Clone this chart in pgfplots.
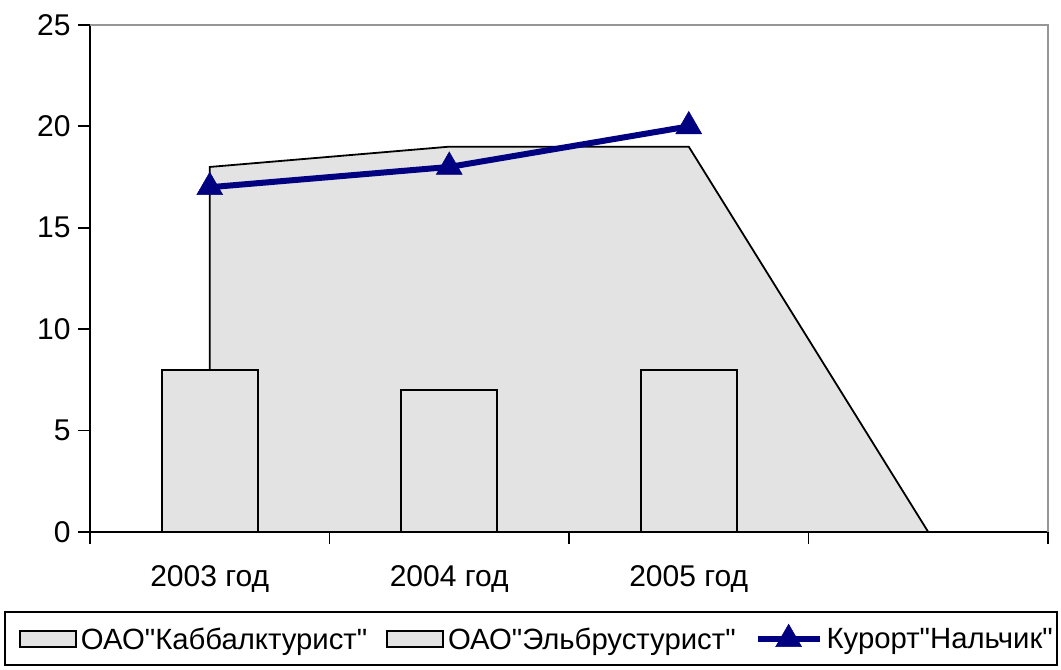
\documentclass[border=0pt]{standalone}
\usepackage{pgfplots}
\pgfplotsset{compat=1.18}
\usepackage{fontspec}
\setmainfont{Liberation Sans}[Ligatures=TeXOff]
\definecolor{fillgray}{RGB}{227,227,227}
\definecolor{navyline}{RGB}{0,0,128}
\definecolor{framegray}{RGB}{150,150,150}
\pgfplotsset{
  boxlegend/.style={legend image code/.code={\draw[##1] (0bp,-8bp) rectangle (56bp,8bp);}},
  linelegend/.style={legend image code/.code={\draw[mark repeat=2,mark phase=2,##1] plot coordinates {(0bp,0bp)(31bp,0bp)(62bp,0bp)};}},
}
\newcommand{\tickfont}{\fontsize{30bp}{36bp}\selectfont}
\newcommand{\legfont}{\fontsize{29.3bp}{35bp}\selectfont}

\begin{document}
\begin{tikzpicture}
\useasboundingbox (0,0) rectangle (1061bp,670bp);
\begin{axis}[
    at={(90bp,138bp)}, anchor=south west,
    scale only axis,
    width=958bp, height=507bp,
    xmin=-0.5, xmax=3.5,
    ymin=0, ymax=25,
    axis x line=bottom, axis y line=left,
    axis line style={line width=1.8bp, black, -},
    xtick={-0.5,0.5,1.5,2.5,3.5},
    xticklabels={2003 год,2004 год,2005 год,,},
    xticklabel style={xshift=119.75bp, yshift=-18bp},
    ytick={0,5,10,15,20,25},
    yticklabel style={xshift=-4bp},
    tick align=outside,
    major tick length=12bp,
    tick style={line width=1.8bp, black},
    tick label style={font=\tickfont},
    /pgf/number format/assume math mode=true,
    clip=false,
    legend columns=3,
    legend cell align=left,
    legend style={at={(0.4666,-0.21)}, anchor=center, draw=none, fill=none,
        font=\legfont, nodes={inner sep=2bp},
        /tikz/every odd column/.append style={column sep=2bp},
        /tikz/every even column/.append style={column sep=17bp}},
]
% ОАО"Эльбрустурист" (area)
\addplot[fill=fillgray, draw=black, line width=1.8bp, forget plot]
    coordinates {(0,18)(1,19)(2,19)(3,0)} \closedcycle;
% ОАО"Каббалктурист" (bars)
\addplot[ybar, bar width=0.4, fill=fillgray, draw=black, line width=1.8bp, forget plot]
    coordinates {(0,8)(1,7)(2,8)};
% Курорт"Нальчик"
\addplot[color=navyline, line width=6bp, mark=triangle*, mark size=15bp,
    mark options={solid, fill=navyline, draw=navyline, line width=0.5bp}, forget plot]
    coordinates {(0,17)(1,18)(2,20)};

\draw[framegray, line width=1.5bp] (rel axis cs:0,1) -- (rel axis cs:1,1) -- (rel axis cs:1,0);

\addlegendimage{boxlegend, fill=fillgray, draw=black, line width=1.8bp}
\addlegendentry{ОАО"Каббалктурист"}
\addlegendimage{boxlegend, fill=fillgray, draw=black, line width=1.8bp}
\addlegendentry{ОАО"Эльбрустурист"}
\addlegendimage{linelegend, color=navyline, line width=6bp, mark=triangle*, mark size=15bp,
    mark options={solid, fill=navyline, draw=navyline, line width=0.5bp}}
\addlegendentry{Курорт"Нальчик"}
\end{axis}
\draw[black, line width=1.8bp] (5bp,5bp) rectangle (1057bp,58bp);
\end{tikzpicture}
\end{document}
